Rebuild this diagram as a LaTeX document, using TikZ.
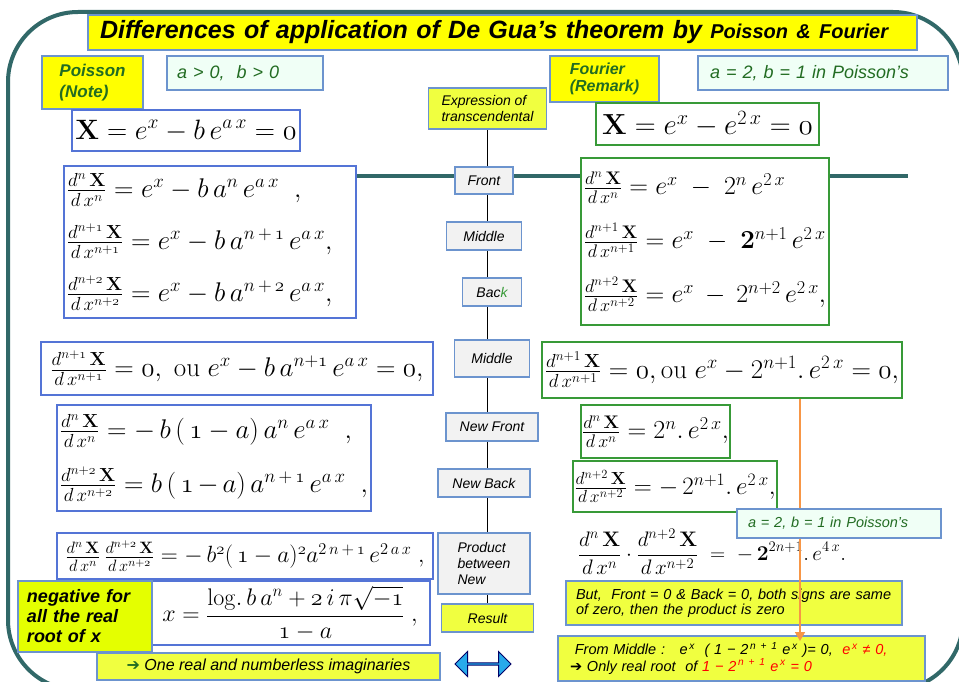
\documentclass[tikz,border=0pt]{standalone}
\usepackage{fix-cm}
\usepackage[no-math]{fontspec}
\setmainfont{Liberation Sans}
\newfontfamily\djv{DejaVu Sans}
\usepackage{xcolor}
\usetikzlibrary{positioning,arrows.meta,shapes.arrows,backgrounds}
\definecolor{frameteal}{RGB}{49,104,104}
\definecolor{pblue}{RGB}{84,116,214}
\definecolor{sblue}{RGB}{108,148,206}
\definecolor{fgreen}{RGB}{56,154,56}
\definecolor{tgreen}{RGB}{34,108,34}
\definecolor{ylw}{RGB}{255,255,0}
\definecolor{lyl}{RGB}{240,255,64}
\definecolor{gyl}{RGB}{228,255,0}
\definecolor{mint}{RGB}{240,255,246}
\definecolor{lgray}{RGB}{242,242,242}
\definecolor{orng}{RGB}{247,150,70}
\definecolor{arrblue}{RGB}{40,170,235}
\newcommand{\os}[1]{\mathnormal{#1}}
\newcommand{\fs}[2]{\fontsize{#1}{#2}\selectfont}
\tikzset{
  ttl/.style     ={draw=sblue, fill=ylw, line width=1.2pt, align=left, font=\fs{25}{30}\bfseries\itshape, inner sep=0pt},
  tag/.style     ={draw=sblue, fill=ylw, line width=1.2pt, text=tgreen, align=left, inner sep=0pt},
  cond/.style    ={draw=sblue, fill=mint, line width=1.2pt, text=tgreen, align=left, inner sep=0pt},
  peq/.style     ={draw=pblue, fill=white, line width=1.2pt, align=left, inner sep=0pt},
  feq/.style     ={draw=fgreen, fill=white, line width=1.2pt, align=left, inner sep=0pt},
  stepbox/.style ={draw=sblue, fill=lgray, line width=1.2pt, align=left, font=\fs{14}{16}\itshape, inner sep=0pt},
  note/.style    ={draw=sblue, fill=lyl, line width=1.2pt, align=left, font=\fs{14.5}{15.5}\itshape, inner sep=0pt},
  wh/.style 2 args={minimum width=#1pt, minimum height=#2pt},
  wire/.style    ={draw=black, line width=1.2pt},
  rail/.style    ={draw=frameteal, line width=4pt},
  arr/.style     ={draw=orng, line width=1.6pt, -{Triangle[length=9pt, width=10pt]}},
}

\begin{document}
\begin{tikzpicture}[x=1pt, y=-1pt]
  \useasboundingbox (0,0) rectangle (959,682);
  \clip (0,0) rectangle (959,682);

  % title and headings
  \node[ttl, wh={829}{35}, text width=805pt] (title) at (502.5,32.5)
       {Differences of application of De Gua’s theorem by {\fs{20}{24}Poisson \& Fourier}};
  \node[tag, wh={101}{53}, font=\fs{17}{21}\bfseries\itshape] (ptag) at (92.5,82.5) {Poisson\\(Note)};
  \node[cond, wh={156}{34}, text width=136pt, font=\fs{18}{22}\itshape] (pcond) at (245,73) {a > 0,\ \ b > 0};
  \node[tag, wh={109}{46}, font=\fs{16}{17}\bfseries\itshape] (ftag) at (604.5,79) {Fourier\\(Remark)};
  \node[cond, wh={250}{34}, text width=226pt, font=\fs{18}{22}\itshape] (fcond) at (823,73) {a = 2, b = 1 in Poisson’s};

  % Poisson side
  \node[peq, wh={228}{41}, font=\fs{28}{32}] (pX) at (186,130.5)
       {$\mathbf{X} = e^{x} - b\,e^{a\,x} = \os0$};
  \node[peq, wh={292}{152}, text width=286pt, font=\fs{27}{52}] (pderiv) at (210,242)
       {$\frac{d^{n}\,\mathbf{X}}{d\,x^{n}} = e^{x} - b\,a^{n}\,e^{a\,x}\;\;,$\\
        $\frac{d^{n+\os1}\,\mathbf{X}}{d\,x^{n+\os1}} = e^{x} - b\,a^{n\,+\,\os1}\,e^{a\,x},$\\
        $\frac{d^{n+\os2}\,\mathbf{X}}{d\,x^{n+\os2}} = e^{x} - b\,a^{n\,+\,\os2}\,e^{a\,x},$};
  \node[peq, wh={392}{53}, font=\fs{27}{30}] (pzero) at (237,368.5)
       {$\frac{d^{n+\os1}\,\mathbf{X}}{d\,x^{n+\os1}} = \os0,\ \mathrm{ou}\ e^{x} - b\,a^{n+\os1}\,e^{a\,x} = \os0,$};
  \node[peq, wh={314}{106}, text width=308pt, font=\fs{27}{54}] (pnew) at (214,458)
       {$\frac{d^{n}\,\mathbf{X}}{d\,x^{n}} = -\,b\,(\,\os1 - a)\,a^{n}\,e^{a\,x}\;\;,$\\
        $\frac{d^{n+\os2}\,\mathbf{X}}{d\,x^{n+\os2}} = b\,(\,\os1 - a)\,a^{n\,+\,\os1}\,e^{a\,x}\;\;,$};
  \node[peq, wh={376}{46}, font=\fs{23.5}{27}] (pprod) at (245,556)
       {$\frac{d^{n}\,\mathbf{X}}{d\,x^{n}}\,\frac{d^{n+\os2}\,\mathbf{X}}{d\,x^{n+\os2}} = -\,b^{\os2}(\,\os1 - a)^{\os2}a^{2\,n\,+\,\os1}\,e^{2\,a\,x}\;,$};
  \node[peq, wh={290}{64}, font=\fs{24}{28}] (proot) at (285,613)
       {\hspace*{10pt}$x = {\displaystyle\frac{\mathrm{log.}\,b\,a^{n} + \os2\,i\,\pi\sqrt{-\os1}}{\os1 - a}}\;,$};
  \node[draw=sblue, fill=gyl, line width=1.2pt, align=left, inner sep=0pt, wh={134}{71}, text width=116pt,
        font=\fs{18}{20}\bfseries\itshape] (negroot) at (85,616.5) {negative for\\all the real\\root of x};
  \node[note, wh={343}{27}, font=\fs{16}{18}\itshape] (onereal) at (268.5,666.5)
       {{\djv\color{tgreen}➔} One real and numberless imaginaries};
  \node[double arrow, draw=black!60!blue, fill=arrblue, line width=1pt, inner sep=0pt,
        minimum height=56pt, minimum width=25pt, double arrow head extend=5pt] (swap) at (483,664) {};

  % steps in the middle
  \node[fill=lyl, draw=sblue, line width=1.2pt, align=left, inner sep=0pt, wh={118}{41},
        font=\fs{14}{16}\itshape] (expr) at (487.5,108.5) {Expression of\\transcendental};
  \node[stepbox, wh={58}{27}] (front)  at (484,180.5) {Front};
  \node[stepbox, wh={75}{28}] (mid)    at (484,236)   {Middle};
  \node[stepbox, wh={59}{28}] (back)   at (492,292)   {Bac\textcolor{fgreen}{k}};
  \node[stepbox, wh={75}{37}] (midtwo) at (492,358.5) {Middle};
  \node[stepbox, wh={92}{28}] (nfront) at (492,427)   {New Front};
  \node[stepbox, wh={92}{28}] (nback)  at (484,483)   {New Back};
  \node[stepbox, wh={92}{61}] (prodnew) at (484,563.5) {Product\\between\\New};
  \node[stepbox, fill=lyl, wh={92}{28}] (result) at (487.5,618) {Result};

  % Fourier side
  \node[feq, wh={223}{42}, font=\fs{29}{32}] (fX) at (707.5,124)
       {$\mathbf{X} = e^{x} - e^{2\,x} = \os0$};
  \node[feq, wh={248}{167}, text width=242pt, font=\fs{26}{54}] (fderiv) at (705,241.5)
       {$\frac{d^{n}\,\mathbf{X}}{d\,x^{n}} = e^{x}\;-\;2^{n}\,e^{2\,x}$\\
        $\frac{d^{n+1}\,\mathbf{X}}{d\,x^{n+1}} = e^{x}\;-\;\mathbf{2}^{n+1}\,e^{2\,x}$\\
        $\frac{d^{n+2}\,\mathbf{X}}{d\,x^{n+2}} = e^{x}\;-\;2^{n+2}\,e^{2\,x},$};
  \node[feq, wh={360}{56}, font=\fs{27}{30}] (fzero) at (722,370)
       {$\frac{d^{n+1}\,\mathbf{X}}{d\,x^{n+1}} = \os0,\mathrm{ou}\ e^{x} - 2^{n+1}.\,e^{2\,x} = \os0,$};
  \node[feq, wh={149}{53}, font=\fs{26}{29}] (fnfront) at (655.5,431.5)
       {$\frac{d^{n}\,\mathbf{X}}{d\,x^{n}} = 2^{n}.\,e^{2\,x},$};
  \node[feq, wh={204}{51}, font=\fs{25}{28}] (fnback) at (675,486.5)
       {$\frac{d^{n+2}\,\mathbf{X}}{d\,x^{n+2}} = -\,2^{n+1}.\,e^{2\,x},$};
  \node[font=\fs{21}{24}, inner sep=0pt] (fprod) at (712,552)
       {$\displaystyle\frac{d^{n}\,\mathbf{X}}{d\,x^{n}}\cdot\frac{d^{n+2}\,\mathbf{X}}{d\,x^{n+2}} \;=\; -\,\mathbf{2}^{2n+1}.\,e^{4\,x}.$};
  \node[note, wh={336}{44}, text width=316pt] (butzero) at (734,603)
       {But,\ \ Front = 0 \& Back = 0, both signs are same\\of zero, then the product is zero};
  \node[note, wh={367}{45}, text width=343pt, font=\fs{14.5}{14.5}\itshape] (frommid) at (741.5,658.5)
       {\ From Middle :\ \ \ e\textsuperscript{\,x}\ \ ( 1 − 2\textsuperscript{\,n + 1} e\textsuperscript{\,x} )= 0,\ \ \textcolor{red}{e\textsuperscript{\,x} ≠ 0,}\\
        {\djv➔} Only real root\ \ of \textcolor{red}{1 − 2\textsuperscript{\,n + 1} e\textsuperscript{\,x} = 0}};

  \coordinate (railL) at (356,176);
  \coordinate (railR) at (908,176);
  \coordinate (otip)  at (800,641);

  \begin{pgfonlayer}{background}
    \fill[white] (0,0) rectangle (959,682);
    \draw[frameteal, line width=4pt, rounded corners=70pt] (8,12) rectangle (963,690);
    \draw[rail] (railL) -- (railR);
    \draw[wire] (expr.south) -- (expr.south |- result.north);
  \end{pgfonlayer}

  \draw[arr] (fzero.south -| otip) -- (otip);

  % this label sits over the orange line
  \node[cond, wh={204}{29}, text width=182pt, font=\fs{14.5}{17}\itshape] (fcondtwo) at (839,523.5)
       {a = 2, b = 1 in Poisson’s};
\end{tikzpicture}
\end{document}
